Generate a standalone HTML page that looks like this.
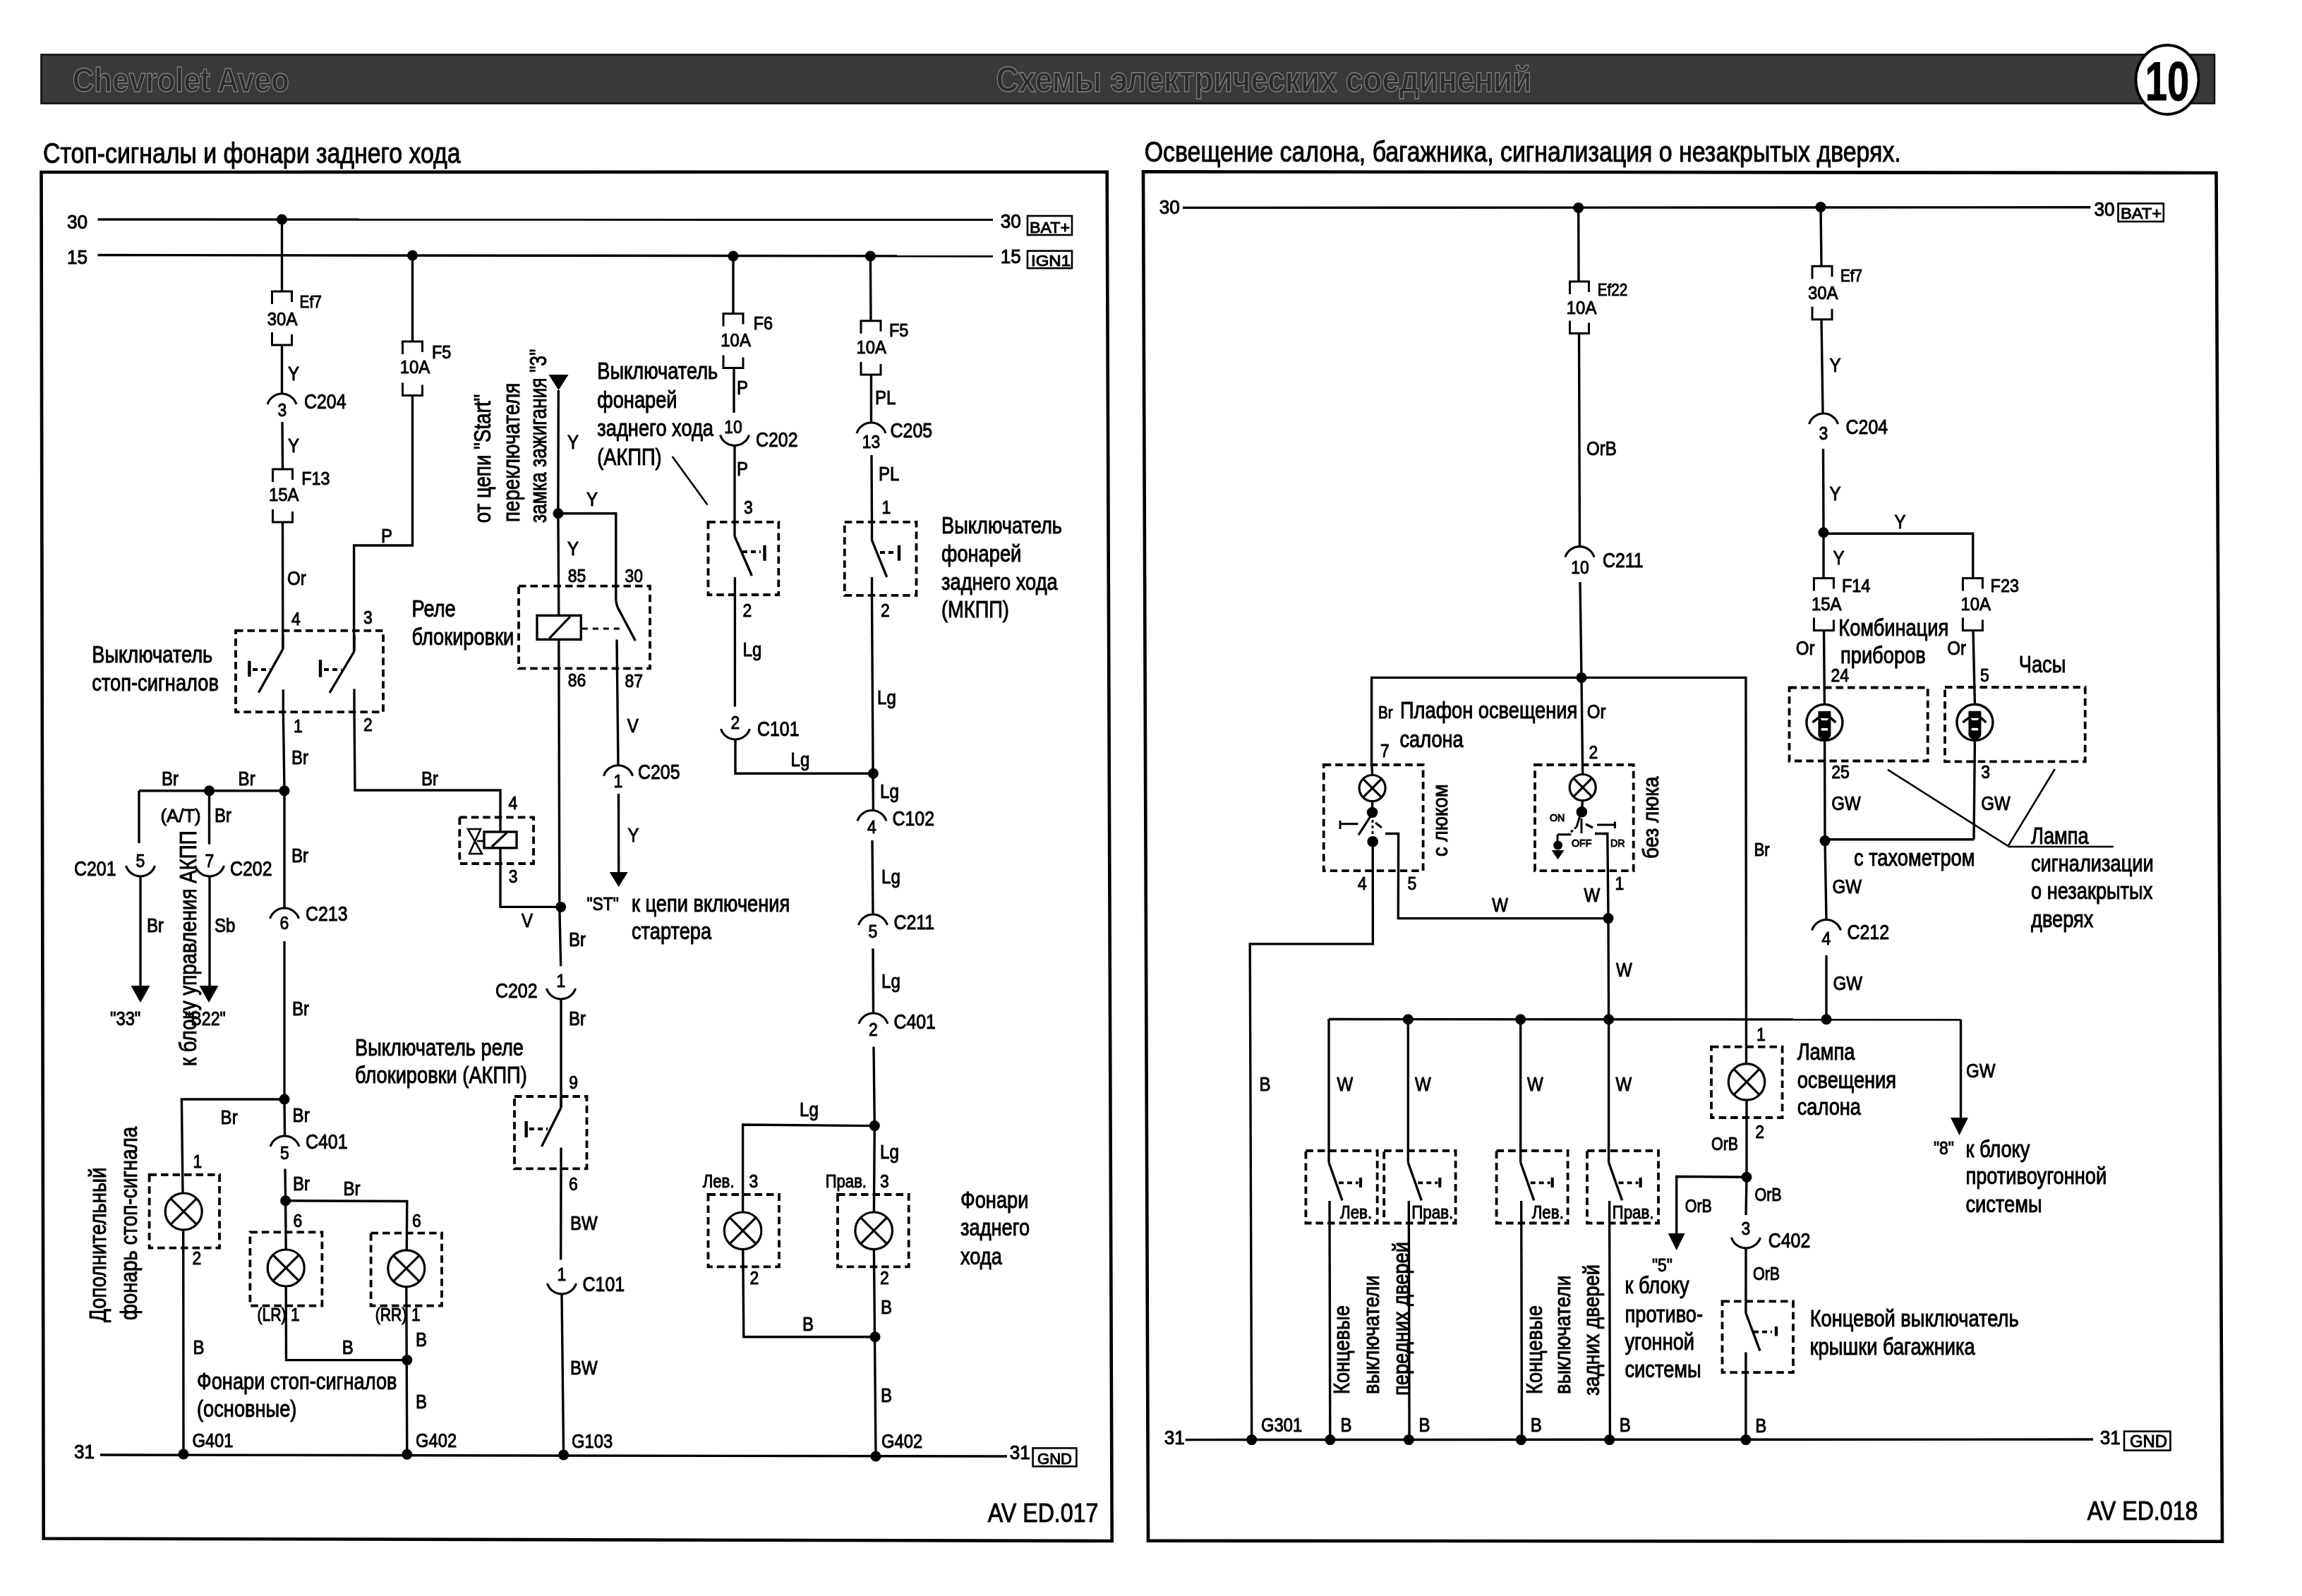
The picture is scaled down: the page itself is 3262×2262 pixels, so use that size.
<!DOCTYPE html>
<html><head><meta charset="utf-8"><style>
html,body{margin:0;padding:0;background:#fff;}
svg{display:block;will-change:transform;}
text{font-family:"Liberation Sans",sans-serif;fill:#000;stroke:#000;stroke-width:1.0px;}
</style></head><body>
<svg width="3262" height="2262" viewBox="0 0 3262 2262" stroke="#000" stroke-linecap="butt">
<rect width="3262" height="2262" fill="#fff" stroke="none"/>
<rect x="57.5" y="76.5" width="3081.5" height="71" fill="#3a3a3a" stroke="none"/><rect x="58.5" y="77.5" width="3079.5" height="69" fill="none" stroke="#111" stroke-width="2.5"/>
<text x="102.8" y="129.5" font-size="49" font-weight="bold" textLength="307" lengthAdjust="spacingAndGlyphs" style="fill:#2c2c2c;stroke:#808080;stroke-width:1.4">Chevrolet Aveo</text>
<text x="1411.4" y="129.5" font-size="50" font-weight="bold" textLength="759" lengthAdjust="spacingAndGlyphs" style="fill:#2c2c2c;stroke:#808080;stroke-width:1.4">Схемы электрических соединений</text>
<ellipse cx="3071" cy="113" rx="44.5" ry="49" fill="#fff" stroke="#000" stroke-width="3.8"/>
<text transform="translate(3071,141.5) scale(0.72,1)" font-size="78" font-weight="bold" text-anchor="middle">10</text>
<path d="M58.5,244 L1568.7,243.7 L1575.7,2184 L61.7,2180.5 Z" fill="none" stroke-width="4.6"/>
<path d="M1620,243.3 L3140.5,245 L3149,2184.7 L1627,2183.8 Z" fill="none" stroke-width="4.6"/>
<text transform="translate(61,230.7) scale(0.847,1)" font-size="40" >Стоп-сигналы и фонари заднего хода</text>
<text transform="translate(1621.7,229.3) scale(0.847,1)" font-size="40" >Освещение салона, багажника, сигнализация о незакрытых дверях.</text>
<line x1="138.6" y1="311" x2="1407" y2="311.3" stroke-width="3.4"/>
<line x1="138.6" y1="361.5" x2="1407" y2="363" stroke-width="3.4"/>
<text transform="translate(95,324) scale(0.97,1)" font-size="27" >30</text>
<text transform="translate(95,374) scale(0.97,1)" font-size="27" >15</text>
<text transform="translate(1417.7,323) scale(0.97,1)" font-size="27" >30</text>
<text transform="translate(1417.7,373) scale(0.97,1)" font-size="27" >15</text>
<rect x="1456" y="306" width="63" height="27" stroke-width="2.6" fill="none"/>
<text x="1459" y="329.5" font-size="22.5" textLength="57" lengthAdjust="spacingAndGlyphs">BAT+</text>
<rect x="1456" y="355.6" width="63" height="24.5" stroke-width="2.6" fill="none"/>
<text x="1461" y="376.5" font-size="22" textLength="56" lengthAdjust="spacingAndGlyphs">IGN1</text>
<circle cx="399.5" cy="311" r="7.5" fill="#000" stroke="none"/>
<circle cx="584.5" cy="362" r="7.5" fill="#000" stroke="none"/>
<circle cx="1039" cy="363" r="7.5" fill="#000" stroke="none"/>
<circle cx="1233.4" cy="363" r="7.5" fill="#000" stroke="none"/>
<line x1="399.5" y1="311" x2="399.5" y2="413" stroke-width="3.4"/>
<path d="M385.5,431 V413 H413.5 V428" stroke-width="3.0" fill="none" />
<path d="M385.5,471 V489 H413.5 V474" stroke-width="3.0" fill="none" />
<text transform="translate(378.8,461) scale(0.92,1)" font-size="26" >30A</text>
<text transform="translate(424.6,435.7) scale(0.9,1)" font-size="23" >Ef7</text>
<line x1="399.5" y1="489" x2="399.5" y2="558" stroke-width="3.4"/>
<text transform="translate(408,538.6) scale(0.86,1)" font-size="28" >Y</text>
<path d="M379,573 A21.5,21.5 0 0 1 420,573" stroke-width="3.1" fill="none" />
<text transform="translate(400,589.6) scale(0.9,1)" font-size="25.5" text-anchor="middle" >3</text>
<text transform="translate(431,578.5) scale(0.845,1)" font-size="29.5" >C204</text>
<line x1="400" y1="598" x2="400.5" y2="665" stroke-width="3.4"/>
<text transform="translate(408,641) scale(0.86,1)" font-size="28" >Y</text>
<path d="M386.5,683 V665 H414.5 V680" stroke-width="3.0" fill="none" />
<path d="M386.5,722 V740 H414.5 V725" stroke-width="3.0" fill="none" />
<text transform="translate(381,710) scale(0.92,1)" font-size="26" >15A</text>
<text transform="translate(427.3,686.5) scale(0.9,1)" font-size="26" >F13</text>
<line x1="400.5" y1="740" x2="400.8" y2="920" stroke-width="3.4"/>
<text transform="translate(407,828.8) scale(0.86,1)" font-size="28" >Or</text>
<text transform="translate(413,885.6) scale(0.9,1)" font-size="25.5" >4</text>
<line x1="584.5" y1="362" x2="584.5" y2="484" stroke-width="3.4"/>
<path d="M570.5,502 V484 H598.5 V499" stroke-width="3.0" fill="none" />
<path d="M570.5,542.5 V560.5 H598.5 V545.5" stroke-width="3.0" fill="none" />
<text transform="translate(566.7,529) scale(0.92,1)" font-size="26" >10A</text>
<text transform="translate(611.9,507.6) scale(0.9,1)" font-size="26" >F5</text>
<polyline points="584.5,560.5 584.5,773 501.6,773 501.6,923" stroke-width="3.4" fill="none"/>
<text transform="translate(540,768.6) scale(0.86,1)" font-size="28" >P</text>
<text transform="translate(515,884) scale(0.9,1)" font-size="25.5" >3</text>
<rect x="334" y="893.8" width="209" height="115.4" stroke-width="3.8" fill="none" stroke-dasharray="10.5 6"/>
<line x1="400.8" y1="900" x2="400.8" y2="920" stroke-width="3.4"/>
<line x1="400.8" y1="920" x2="366.4" y2="981.6" stroke-width="3.4"/>
<line x1="353.4" y1="936.7" x2="353.4" y2="959" stroke-width="4.4"/>
<line x1="358" y1="949" x2="383" y2="949" stroke-width="3.8" stroke-dasharray="7 5"/>
<line x1="401.3" y1="977.4" x2="401.3" y2="1009" stroke-width="3.4"/>
<line x1="502" y1="900" x2="502" y2="923" stroke-width="3.4"/>
<line x1="502" y1="923" x2="467" y2="982" stroke-width="3.4"/>
<line x1="454" y1="935" x2="454" y2="959.7" stroke-width="4.4"/>
<line x1="459" y1="949" x2="484" y2="949" stroke-width="3.8" stroke-dasharray="7 5"/>
<line x1="502" y1="976.4" x2="502" y2="1009" stroke-width="3.4"/>
<text transform="translate(416,1037.8) scale(0.9,1)" font-size="25.5" >1</text>
<text transform="translate(515,1036) scale(0.9,1)" font-size="25.5" >2</text>
<text transform="translate(130.3,939) scale(0.826,1)" font-size="33" >Выключатель</text>
<text transform="translate(130.3,979.3) scale(0.826,1)" font-size="33" >стоп-сигналов</text>
<polyline points="401.3,1009 403,1120.8 403,1287" stroke-width="3.4" fill="none"/>
<text transform="translate(413,1083) scale(0.86,1)" font-size="28" >Br</text>
<polyline points="502,1009 503,1120 709,1120 709,1179" stroke-width="3.4" fill="none"/>
<text transform="translate(597,1113) scale(0.86,1)" font-size="28" >Br</text>
<text transform="translate(720.6,1146.5) scale(0.9,1)" font-size="25.5" >4</text>
<line x1="197" y1="1120.8" x2="403" y2="1120.8" stroke-width="3.4"/>
<circle cx="403" cy="1120.8" r="7.5" fill="#000" stroke="none"/>
<circle cx="296.5" cy="1120.8" r="7.5" fill="#000" stroke="none"/>
<text transform="translate(229,1113) scale(0.86,1)" font-size="28" >Br</text>
<text transform="translate(337.6,1113) scale(0.86,1)" font-size="28" >Br</text>
<line x1="197" y1="1120.8" x2="197" y2="1195" stroke-width="3.4"/>
<line x1="296.5" y1="1120.8" x2="296.5" y2="1196.7" stroke-width="3.4"/>
<text transform="translate(227.5,1164.5) scale(0.99,1)" font-size="26" >(A/T)</text>
<text transform="translate(304,1165) scale(0.86,1)" font-size="28" >Br</text>
<path d="M178.5,1227 A21.5,21.5 0 0 0 219.5,1227" stroke-width="3.1" fill="none" />
<text transform="translate(199,1228.5) scale(0.9,1)" font-size="25.5" text-anchor="middle" >5</text>
<text transform="translate(105,1241) scale(0.845,1)" font-size="29.5" >C201</text>
<path d="M276.5,1227 A21.5,21.5 0 0 0 317.5,1227" stroke-width="3.1" fill="none" />
<text transform="translate(297,1228.5) scale(0.9,1)" font-size="25.5" text-anchor="middle" >7</text>
<text transform="translate(326,1241) scale(0.845,1)" font-size="29.5" >C202</text>
<line x1="199" y1="1242" x2="199" y2="1397" stroke-width="3.4"/>
<path d="M185.5,1397 L212.5,1397 L199,1421 Z" fill="#000" stroke="none"/>
<text transform="translate(208,1320.5) scale(0.86,1)" font-size="28" >Br</text>
<line x1="297" y1="1242" x2="297" y2="1397" stroke-width="3.4"/>
<path d="M282.5,1397 L309.5,1397 L296,1421 Z" fill="#000" stroke="none"/>
<text transform="translate(304,1320.5) scale(0.86,1)" font-size="28" >Sb</text>
<text transform="translate(156,1452.6) scale(0.88,1)" font-size="27" >"33"</text>
<text transform="translate(262,1452.6) scale(0.86,1)" font-size="27" >"B22"</text>
<text transform="translate(277.5,1511) rotate(-90) scale(0.84,1)" font-size="33" >к блоку управления АКПП</text>
<text transform="translate(413,1221.8) scale(0.86,1)" font-size="28" >Br</text>
<path d="M382.5,1302 A21.5,21.5 0 0 1 423.5,1302" stroke-width="3.1" fill="none" />
<text transform="translate(403,1317) scale(0.9,1)" font-size="25.5" text-anchor="middle" >6</text>
<text transform="translate(433,1305.4) scale(0.845,1)" font-size="29.5" >C213</text>
<line x1="403" y1="1334" x2="403" y2="1558" stroke-width="3.4"/>
<text transform="translate(414,1439) scale(0.86,1)" font-size="28" >Br</text>
<circle cx="403" cy="1558" r="7.5" fill="#000" stroke="none"/>
<polyline points="403,1558 257.4,1558 259,1691" stroke-width="3.4" fill="none"/>
<text transform="translate(312.6,1593) scale(0.86,1)" font-size="28" >Br</text>
<text transform="translate(414.6,1589.7) scale(0.86,1)" font-size="28" >Br</text>
<line x1="403" y1="1558" x2="403.5" y2="1610" stroke-width="3.4"/>
<path d="M383,1625 A21.5,21.5 0 0 1 424,1625" stroke-width="3.1" fill="none" />
<text transform="translate(403.5,1643) scale(0.9,1)" font-size="25.5" text-anchor="middle" >5</text>
<text transform="translate(433,1628) scale(0.845,1)" font-size="29.5" >C401</text>
<line x1="404" y1="1656.6" x2="404.6" y2="1701.8" stroke-width="3.4"/>
<circle cx="404.6" cy="1701.8" r="7.5" fill="#000" stroke="none"/>
<text transform="translate(415,1686.7) scale(0.86,1)" font-size="28" >Br</text>
<text transform="translate(486.5,1693.5) scale(0.86,1)" font-size="28" >Br</text>
<polyline points="404.6,1701.8 576.8,1702.5 576.3,1772" stroke-width="3.4" fill="none"/>
<line x1="404.6" y1="1701.8" x2="405.2" y2="1771" stroke-width="3.4"/>
<text transform="translate(415.6,1738.6) scale(0.9,1)" font-size="25.5" >6</text>
<text transform="translate(584,1738.6) scale(0.9,1)" font-size="25.5" >6</text>
<text transform="translate(273.4,1655) scale(0.9,1)" font-size="25.5" >1</text>
<rect x="211.6" y="1665" width="99.4" height="103.7" stroke-width="3.8" fill="none" stroke-dasharray="10.5 6"/>
<circle cx="260.2" cy="1717" r="26" stroke-width="3.2" fill="none"/>
<line x1="241.8" y1="1698.6" x2="278.6" y2="1735.4" stroke-width="3.2"/>
<line x1="241.8" y1="1735.4" x2="278.6" y2="1698.6" stroke-width="3.2"/>
<text transform="translate(272.4,1792) scale(0.9,1)" font-size="25.5" >2</text>
<line x1="259.7" y1="1743" x2="260" y2="2060.5" stroke-width="3.4"/>
<text transform="translate(273.4,1919) scale(0.86,1)" font-size="28" >B</text>
<rect x="354.4" y="1746.3" width="102" height="104.4" stroke-width="3.8" fill="none" stroke-dasharray="10.5 6"/>
<circle cx="405.2" cy="1797" r="26" stroke-width="3.2" fill="none"/>
<line x1="386.8" y1="1778.6" x2="423.6" y2="1815.4" stroke-width="3.2"/>
<line x1="386.8" y1="1815.4" x2="423.6" y2="1778.6" stroke-width="3.2"/>
<rect x="525.6" y="1747.6" width="100.4" height="103.1" stroke-width="3.8" fill="none" stroke-dasharray="10.5 6"/>
<circle cx="575.8" cy="1797.8" r="26" stroke-width="3.2" fill="none"/>
<line x1="557.4" y1="1779.4" x2="594.2" y2="1816.2" stroke-width="3.2"/>
<line x1="557.4" y1="1816.2" x2="594.2" y2="1779.4" stroke-width="3.2"/>
<text transform="translate(364.4,1872.4) scale(0.85,1)" font-size="25" >(LR)</text>
<text transform="translate(412,1872.4) scale(0.9,1)" font-size="25.5" >1</text>
<text transform="translate(531.7,1872.4) scale(0.85,1)" font-size="25" >(RR)</text>
<text transform="translate(583,1872.4) scale(0.9,1)" font-size="25.5" >1</text>
<polyline points="405.2,1823 405.5,1927.6 576.8,1927.6" stroke-width="3.4" fill="none"/>
<line x1="575.8" y1="1823.8" x2="576.8" y2="2060.5" stroke-width="3.4"/>
<circle cx="576.8" cy="1927.6" r="7.5" fill="#000" stroke="none"/>
<text transform="translate(484.8,1919) scale(0.86,1)" font-size="28" >B</text>
<text transform="translate(589,1907.5) scale(0.86,1)" font-size="28" >B</text>
<text transform="translate(589,1996) scale(0.86,1)" font-size="28" >B</text>
<text transform="translate(279,1969.4) scale(0.826,1)" font-size="33" >Фонари стоп-сигналов</text>
<text transform="translate(279,2008) scale(0.826,1)" font-size="33" >(основные)</text>
<text transform="translate(150,1874) rotate(-90) scale(0.84,1)" font-size="33" >Дополнительный</text>
<text transform="translate(194,1871) rotate(-90) scale(0.84,1)" font-size="33" >фонарь стоп-сигнала</text>
<line x1="142" y1="2062" x2="1427" y2="2064" stroke-width="3.4"/>
<text transform="translate(105,2067.4) scale(0.97,1)" font-size="27" >31</text>
<text transform="translate(272.4,2050.7) scale(0.88,1)" font-size="27" >G401</text>
<text transform="translate(589,2050.7) scale(0.88,1)" font-size="27" >G402</text>
<circle cx="260" cy="2061" r="7.5" fill="#000" stroke="none"/>
<circle cx="576.8" cy="2061.3" r="7.5" fill="#000" stroke="none"/>
<text transform="translate(695,741.3) rotate(-90) scale(0.84,1)" font-size="33" >от цепи "Start"</text>
<text transform="translate(735.5,740) rotate(-90) scale(0.84,1)" font-size="33" >переключателя</text>
<text transform="translate(774,741) rotate(-90) scale(0.8,1)" font-size="33" >замка зажигания "3"</text>
<path d="M777.5,531 L805.5,531 L791.5,553 Z" fill="#000" stroke="none"/>
<polyline points="791.3,553 790.9,727.8 791.8,872.3" stroke-width="3.4" fill="none"/>
<text transform="translate(804,636) scale(0.86,1)" font-size="28" >Y</text>
<circle cx="790.9" cy="727.8" r="7.5" fill="#000" stroke="none"/>
<polyline points="790.9,727.8 872.8,727.8 872.8,850.8" stroke-width="3.4" fill="none"/>
<text transform="translate(831,717) scale(0.86,1)" font-size="28" >Y</text>
<text transform="translate(804,787) scale(0.86,1)" font-size="28" >Y</text>
<text transform="translate(804.8,825.2) scale(0.9,1)" font-size="25.5" >85</text>
<text transform="translate(885.5,825.2) scale(0.9,1)" font-size="25.5" >30</text>
<rect x="735" y="830.7" width="186" height="116.7" stroke-width="3.8" fill="none" stroke-dasharray="10.5 6"/>
<rect x="761" y="872.3" width="62.3" height="34" stroke-width="3.4" fill="none"/>
<line x1="778.3" y1="904.8" x2="808" y2="873.8" stroke-width="3.2"/>
<line x1="824.8" y1="891" x2="882.5" y2="891" stroke-width="3" stroke-dasharray="8 7"/>
<path d="M872.8,850.8 Q874,860 878,866 L900.3,908" stroke-width="3.4" fill="none" />
<line x1="874" y1="906.5" x2="876" y2="1084.7" stroke-width="3.4"/>
<text transform="translate(804.8,972.6) scale(0.9,1)" font-size="25.5" >86</text>
<text transform="translate(885.5,973.8) scale(0.9,1)" font-size="25.5" >87</text>
<text transform="translate(583.5,874) scale(0.826,1)" font-size="33" >Реле</text>
<text transform="translate(583.5,914) scale(0.826,1)" font-size="33" >блокировки</text>
<text transform="translate(888.7,1038.3) scale(0.86,1)" font-size="28" >V</text>
<path d="M855.5,1099.7 A21.5,21.5 0 0 1 896.5,1099.7" stroke-width="3.1" fill="none" />
<text transform="translate(876,1115.6) scale(0.9,1)" font-size="25.5" text-anchor="middle" >1</text>
<text transform="translate(904,1104) scale(0.845,1)" font-size="29.5" >C205</text>
<line x1="876.5" y1="1125" x2="876.7" y2="1236" stroke-width="3.4"/>
<path d="M863.7,1236 L889.7,1236 L876.7,1257 Z" fill="#000" stroke="none"/>
<text transform="translate(889.4,1193) scale(0.86,1)" font-size="28" >Y</text>
<text transform="translate(831.5,1290) scale(0.88,1)" font-size="26" >"ST"</text>
<text transform="translate(895,1292) scale(0.826,1)" font-size="33" >к цепи включения</text>
<text transform="translate(895,1330.8) scale(0.826,1)" font-size="33" >стартера</text>
<polyline points="791.8,906.3 792.8,1284.4 794.7,1369.4" stroke-width="3.4" fill="none"/>
<circle cx="794.7" cy="1285.4" r="7.5" fill="#000" stroke="none"/>
<rect x="651.3" y="1158.3" width="104.7" height="65.7" stroke-width="3.8" fill="none" stroke-dasharray="10.5 6"/>
<rect x="686" y="1179" width="46" height="22.8" stroke-width="3.4" fill="none"/>
<line x1="697" y1="1200" x2="718.3" y2="1180" stroke-width="3.2"/>
<path d="M663,1175 H681 L665,1210 H683 Z" stroke-width="2.6" fill="none" />
<line x1="676" y1="1192" x2="686" y2="1192" stroke-width="2.6"/>
<polyline points="709,1201.8 709,1285.4 794.7,1285.4" stroke-width="3.4" fill="none"/>
<text transform="translate(720.8,1251) scale(0.9,1)" font-size="25.5" >3</text>
<text transform="translate(739,1313.8) scale(0.86,1)" font-size="28" >V</text>
<text transform="translate(806,1340.6) scale(0.86,1)" font-size="28" >Br</text>
<path d="M774.5,1401 A21.5,21.5 0 0 0 815.5,1401" stroke-width="3.1" fill="none" />
<text transform="translate(795,1399) scale(0.9,1)" font-size="25.5" text-anchor="middle" >1</text>
<text transform="translate(702,1414) scale(0.845,1)" font-size="29.5" >C202</text>
<line x1="795" y1="1416" x2="795" y2="1569.7" stroke-width="3.4"/>
<text transform="translate(806,1452.6) scale(0.86,1)" font-size="28" >Br</text>
<text transform="translate(503,1496) scale(0.826,1)" font-size="33" >Выключатель реле</text>
<text transform="translate(503,1534.6) scale(0.826,1)" font-size="33" >блокировки (АКПП)</text>
<text transform="translate(806.3,1543.4) scale(0.9,1)" font-size="25.5" >9</text>
<rect x="729" y="1554" width="102.5" height="102.3" stroke-width="3.8" fill="none" stroke-dasharray="10.5 6"/>
<line x1="795" y1="1554" x2="795" y2="1569.7" stroke-width="3.4"/>
<line x1="795" y1="1569.7" x2="767.5" y2="1625" stroke-width="3.4"/>
<line x1="745.7" y1="1589" x2="745.7" y2="1612" stroke-width="4.4"/>
<line x1="750" y1="1600" x2="776" y2="1600" stroke-width="3.8" stroke-dasharray="7 5"/>
<line x1="795" y1="1626.5" x2="795" y2="1656" stroke-width="3.4"/>
<text transform="translate(806,1686.6) scale(0.9,1)" font-size="25.5" >6</text>
<line x1="795" y1="1656" x2="794.7" y2="1785.6" stroke-width="3.4"/>
<text transform="translate(808,1743) scale(0.86,1)" font-size="28" >BW</text>
<path d="M775.5,1819 A21.5,21.5 0 0 0 816.5,1819" stroke-width="3.1" fill="none" />
<text transform="translate(796,1814.6) scale(0.9,1)" font-size="25.5" text-anchor="middle" >1</text>
<text transform="translate(825.6,1830) scale(0.845,1)" font-size="29.5" >C101</text>
<line x1="796" y1="1834" x2="798.6" y2="2062" stroke-width="3.4"/>
<text transform="translate(808,1948) scale(0.86,1)" font-size="28" >BW</text>
<circle cx="798.6" cy="2062" r="7.5" fill="#000" stroke="none"/>
<text transform="translate(810,2052.4) scale(0.88,1)" font-size="27" >G103</text>
<line x1="1039" y1="363" x2="1039" y2="444.5" stroke-width="3.4"/>
<path d="M1025,462.5 V444.5 H1053 V459.5" stroke-width="3.0" fill="none" />
<path d="M1025,503.5 V521.5 H1053 V506.5" stroke-width="3.0" fill="none" />
<text transform="translate(1021.3,490.8) scale(0.92,1)" font-size="26" >10A</text>
<text transform="translate(1067.7,466.8) scale(0.9,1)" font-size="26" >F6</text>
<line x1="1040" y1="521.7" x2="1040" y2="585" stroke-width="3.4"/>
<text transform="translate(1044,559.4) scale(0.86,1)" font-size="28" >P</text>
<text transform="translate(846.3,537) scale(0.826,1)" font-size="33" >Выключатель</text>
<text transform="translate(846.3,578.3) scale(0.826,1)" font-size="33" >фонарей</text>
<text transform="translate(846.3,617.8) scale(0.826,1)" font-size="33" >заднего хода</text>
<text transform="translate(846.3,659) scale(0.826,1)" font-size="33" >(АКПП)</text>
<line x1="952.7" y1="647" x2="1002.5" y2="715.6" stroke-width="2.6"/>
<path d="M1020.5,616.5 A21.5,21.5 0 0 0 1061.5,616.5" stroke-width="3.1" fill="none" />
<text transform="translate(1039,614.3) scale(0.9,1)" font-size="25.5" text-anchor="middle" >10</text>
<text transform="translate(1071,633) scale(0.845,1)" font-size="29.5" >C202</text>
<line x1="1041" y1="631.5" x2="1041" y2="739.8" stroke-width="3.4"/>
<text transform="translate(1044,674) scale(0.86,1)" font-size="28" >P</text>
<text transform="translate(1054,727.6) scale(0.9,1)" font-size="25.5" >3</text>
<rect x="1003.5" y="739.8" width="99.8" height="103.2" stroke-width="3.8" fill="none" stroke-dasharray="10.5 6"/>
<line x1="1041" y1="739.8" x2="1041" y2="760" stroke-width="3.4"/>
<line x1="1041" y1="760" x2="1065.4" y2="816" stroke-width="3.4"/>
<line x1="1083.5" y1="772.7" x2="1083.5" y2="794.7" stroke-width="4.4"/>
<line x1="1052" y1="782" x2="1078" y2="782" stroke-width="3.8" stroke-dasharray="7 5"/>
<line x1="1041.4" y1="818" x2="1041.4" y2="843" stroke-width="3.4"/>
<text transform="translate(1052.6,874) scale(0.9,1)" font-size="25.5" >2</text>
<line x1="1041.4" y1="843" x2="1041.4" y2="1001.6" stroke-width="3.4"/>
<text transform="translate(1052.6,930) scale(0.86,1)" font-size="28" >Lg</text>
<path d="M1021.5,1033 A21.5,21.5 0 0 0 1062.5,1033" stroke-width="3.1" fill="none" />
<text transform="translate(1042,1032.5) scale(0.9,1)" font-size="25.5" text-anchor="middle" >2</text>
<text transform="translate(1073,1043.3) scale(0.845,1)" font-size="29.5" >C101</text>
<polyline points="1042,1048 1042,1096.3 1237.4,1096.3" stroke-width="3.4" fill="none"/>
<text transform="translate(1120.6,1085.8) scale(0.86,1)" font-size="28" >Lg</text>
<line x1="1233.4" y1="363" x2="1234" y2="454.8" stroke-width="3.4"/>
<path d="M1220,472.8 V454.8 H1248 V469.8" stroke-width="3.0" fill="none" />
<path d="M1220,513 V531 H1248 V516" stroke-width="3.0" fill="none" />
<text transform="translate(1213.5,501) scale(0.92,1)" font-size="26" >10A</text>
<text transform="translate(1260,477) scale(0.9,1)" font-size="26" >F5</text>
<line x1="1234.5" y1="531" x2="1234.5" y2="599" stroke-width="3.4"/>
<text transform="translate(1240,573) scale(0.86,1)" font-size="28" >PL</text>
<path d="M1214,614 A21.5,21.5 0 0 1 1255,614" stroke-width="3.1" fill="none" />
<text transform="translate(1234.5,635) scale(0.9,1)" font-size="25.5" text-anchor="middle" >13</text>
<text transform="translate(1261.6,619.5) scale(0.845,1)" font-size="29.5" >C205</text>
<line x1="1235" y1="645" x2="1235.5" y2="739.8" stroke-width="3.4"/>
<text transform="translate(1245,681) scale(0.86,1)" font-size="28" >PL</text>
<text transform="translate(1249.5,727.6) scale(0.9,1)" font-size="25.5" >1</text>
<rect x="1196.8" y="739.8" width="101.7" height="104" stroke-width="3.8" fill="none" stroke-dasharray="10.5 6"/>
<line x1="1235.5" y1="739.8" x2="1235.5" y2="765.7" stroke-width="3.4"/>
<line x1="1235.5" y1="765.7" x2="1256.7" y2="817.9" stroke-width="3.4"/>
<line x1="1274" y1="772.7" x2="1274" y2="794.7" stroke-width="4.4"/>
<line x1="1247" y1="783" x2="1269" y2="783" stroke-width="3.8" stroke-dasharray="7 5"/>
<line x1="1235.5" y1="818" x2="1235.5" y2="843.8" stroke-width="3.4"/>
<text transform="translate(1248,874) scale(0.9,1)" font-size="25.5" >2</text>
<text transform="translate(1334,755.5) scale(0.826,1)" font-size="33" >Выключатель</text>
<text transform="translate(1334,796) scale(0.826,1)" font-size="33" >фонарей</text>
<text transform="translate(1334,835.5) scale(0.826,1)" font-size="33" >заднего хода</text>
<text transform="translate(1334,874.5) scale(0.826,1)" font-size="33" >(МКПП)</text>
<line x1="1235.5" y1="843.8" x2="1237.4" y2="1148.5" stroke-width="3.4"/>
<text transform="translate(1243,997.7) scale(0.86,1)" font-size="28" >Lg</text>
<circle cx="1237.4" cy="1096.3" r="7.5" fill="#000" stroke="none"/>
<text transform="translate(1247,1131) scale(0.86,1)" font-size="28" >Lg</text>
<path d="M1215,1163.5 A21.5,21.5 0 0 1 1256,1163.5" stroke-width="3.1" fill="none" />
<text transform="translate(1235.5,1181.3) scale(0.9,1)" font-size="25.5" text-anchor="middle" >4</text>
<text transform="translate(1264.5,1169.7) scale(0.845,1)" font-size="29.5" >C102</text>
<line x1="1236" y1="1191" x2="1237" y2="1296" stroke-width="3.4"/>
<text transform="translate(1249,1251.5) scale(0.86,1)" font-size="28" >Lg</text>
<path d="M1216.5,1311 A21.5,21.5 0 0 1 1257.5,1311" stroke-width="3.1" fill="none" />
<text transform="translate(1237,1329) scale(0.9,1)" font-size="25.5" text-anchor="middle" >5</text>
<text transform="translate(1266.4,1317) scale(0.845,1)" font-size="29.5" >C211</text>
<line x1="1237" y1="1344.3" x2="1237.5" y2="1436" stroke-width="3.4"/>
<text transform="translate(1249,1400.4) scale(0.86,1)" font-size="28" >Lg</text>
<path d="M1217,1451 A21.5,21.5 0 0 1 1258,1451" stroke-width="3.1" fill="none" />
<text transform="translate(1237.5,1468) scale(0.9,1)" font-size="25.5" text-anchor="middle" >2</text>
<text transform="translate(1266.4,1457.6) scale(0.845,1)" font-size="29.5" >C401</text>
<line x1="1238" y1="1483.5" x2="1239.3" y2="1595.6" stroke-width="3.4"/>
<circle cx="1239.3" cy="1595.6" r="7.5" fill="#000" stroke="none"/>
<polyline points="1239.3,1595.6 1052.6,1594 1052.6,1718" stroke-width="3.4" fill="none"/>
<text transform="translate(1133,1582) scale(0.86,1)" font-size="28" >Lg</text>
<text transform="translate(1247,1642) scale(0.86,1)" font-size="28" >Lg</text>
<line x1="1239.3" y1="1595.6" x2="1238.4" y2="1718" stroke-width="3.4"/>
<text transform="translate(995.8,1682.6) scale(0.85,1)" font-size="26" >Лев.</text>
<text transform="translate(1061.5,1682.6) scale(0.9,1)" font-size="25.5" >3</text>
<text transform="translate(1169.7,1682.6) scale(0.85,1)" font-size="26" >Прав.</text>
<text transform="translate(1247,1682.6) scale(0.9,1)" font-size="25.5" >3</text>
<rect x="1003.5" y="1693" width="100.5" height="102.3" stroke-width="3.8" fill="none" stroke-dasharray="10.5 6"/>
<circle cx="1052.6" cy="1744.3" r="26.3" stroke-width="3.2" fill="none"/>
<line x1="1034" y1="1725.7" x2="1071.2" y2="1762.9" stroke-width="3.2"/>
<line x1="1034" y1="1762.9" x2="1071.2" y2="1725.7" stroke-width="3.2"/>
<rect x="1187" y="1693" width="100.7" height="102.3" stroke-width="3.8" fill="none" stroke-dasharray="10.5 6"/>
<circle cx="1238.2" cy="1744.3" r="26.3" stroke-width="3.2" fill="none"/>
<line x1="1219.6" y1="1725.7" x2="1256.8" y2="1762.9" stroke-width="3.2"/>
<line x1="1219.6" y1="1762.9" x2="1256.8" y2="1725.7" stroke-width="3.2"/>
<text transform="translate(1361,1712) scale(0.826,1)" font-size="33" >Фонари</text>
<text transform="translate(1361,1751) scale(0.826,1)" font-size="33" >заднего</text>
<text transform="translate(1361,1791.5) scale(0.826,1)" font-size="33" >хода</text>
<text transform="translate(1062.6,1820.4) scale(0.9,1)" font-size="25.5" >2</text>
<text transform="translate(1247,1820.4) scale(0.9,1)" font-size="25.5" >2</text>
<polyline points="1052.8,1770.6 1053.8,1894.7 1240,1894.7" stroke-width="3.4" fill="none"/>
<line x1="1238.4" y1="1770.6" x2="1241" y2="2064" stroke-width="3.4"/>
<circle cx="1240" cy="1894.7" r="7.5" fill="#000" stroke="none"/>
<circle cx="1241" cy="2064" r="7.5" fill="#000" stroke="none"/>
<text transform="translate(1248,1861.8) scale(0.86,1)" font-size="28" >B</text>
<text transform="translate(1137,1886) scale(0.86,1)" font-size="28" >B</text>
<text transform="translate(1248,1986.7) scale(0.86,1)" font-size="28" >B</text>
<text transform="translate(1249,2052.4) scale(0.88,1)" font-size="27" >G402</text>
<text transform="translate(1430.7,2068) scale(0.97,1)" font-size="27" >31</text>
<rect x="1463.6" y="2052.4" width="61.8" height="25.9" stroke-width="2.6" fill="none"/>
<text x="1470" y="2074.5" font-size="22" textLength="49" lengthAdjust="spacingAndGlyphs">GND</text>
<text transform="translate(1399.8,2156.8) scale(0.853,1)" font-size="37.7" >AV ED.017</text>
<line x1="1676" y1="294.4" x2="2962.4" y2="293.8" stroke-width="3.4"/>
<text transform="translate(1642.8,303) scale(0.97,1)" font-size="27" >30</text>
<text transform="translate(2967.4,306.4) scale(0.97,1)" font-size="27" >30</text>
<rect x="3001.5" y="288.4" width="64.3" height="25.6" stroke-width="2.6" fill="none"/>
<text x="3005" y="310" font-size="22.5" textLength="58" lengthAdjust="spacingAndGlyphs">BAT+</text>
<circle cx="2236.7" cy="294.4" r="7.5" fill="#000" stroke="none"/>
<circle cx="2580" cy="293.5" r="7.5" fill="#000" stroke="none"/>
<line x1="2236.7" y1="294.4" x2="2237" y2="398.9" stroke-width="3.4"/>
<path d="M2224.5,416.9 V398.9 H2251.5 V413.9" stroke-width="3.0" fill="none" />
<path d="M2224.5,454.5 V472.5 H2251.5 V457.5" stroke-width="3.0" fill="none" />
<text transform="translate(2219.8,444.6) scale(0.92,1)" font-size="26" >10A</text>
<text transform="translate(2263.8,419.3) scale(0.9,1)" font-size="23" >Ef22</text>
<line x1="2237.5" y1="472" x2="2238.5" y2="774.6" stroke-width="3.4"/>
<text transform="translate(2248,644.5) scale(0.86,1)" font-size="28" >OrB</text>
<path d="M2218,789.6 A21.5,21.5 0 0 1 2259,789.6" stroke-width="3.1" fill="none" />
<text transform="translate(2239,812.6) scale(0.9,1)" font-size="25.5" text-anchor="middle" >10</text>
<text transform="translate(2271,803.8) scale(0.845,1)" font-size="29.5" >C211</text>
<line x1="2239" y1="825" x2="2241" y2="960.4" stroke-width="3.4"/>
<circle cx="2241" cy="960.4" r="7.5" fill="#000" stroke="none"/>
<polyline points="1943.6,1084 1943.6,960.4 2473.9,960.4 2474.5,1507.7" stroke-width="3.4" fill="none"/>
<text transform="translate(1953,1018.4) scale(0.86,1)" font-size="24" >Br</text>
<text transform="translate(1984,1018.4) scale(0.826,1)" font-size="33" >Плафон освещения</text>
<text transform="translate(1983.4,1059) scale(0.826,1)" font-size="33" >салона</text>
<text transform="translate(2248.7,1018.4) scale(0.86,1)" font-size="28" >Or</text>
<text transform="translate(1956,1073) scale(0.9,1)" font-size="25.5" >7</text>
<text transform="translate(2251.5,1074.7) scale(0.9,1)" font-size="25.5" >2</text>
<line x1="2241" y1="960.4" x2="2242.7" y2="1097.5" stroke-width="3.4"/>
<rect x="1875.7" y="1084" width="140.9" height="150.2" stroke-width="3.8" fill="none" stroke-dasharray="10.5 6"/>
<line x1="1943.8" y1="1084" x2="1944.6" y2="1098.5" stroke-width="3.4"/>
<circle cx="1944.6" cy="1117" r="18.5" stroke-width="3.2" fill="none"/>
<line x1="1931.5" y1="1103.9" x2="1957.7" y2="1130.1" stroke-width="3.2"/>
<line x1="1931.5" y1="1130.1" x2="1957.7" y2="1103.9" stroke-width="3.2"/>
<line x1="1944.6" y1="1135.5" x2="1944.6" y2="1151.5" stroke-width="3.4"/>
<circle cx="1944.6" cy="1151.5" r="7.8" fill="#000" stroke="none"/>
<line x1="1944" y1="1154" x2="1925" y2="1183.4" stroke-width="3.2"/>
<line x1="1945" y1="1162" x2="1945" y2="1182" stroke-width="3" stroke-dasharray="4 4"/>
<line x1="1899" y1="1167.7" x2="1924.5" y2="1167.7" stroke-width="3"/>
<line x1="1899" y1="1163" x2="1899" y2="1175" stroke-width="3"/>
<line x1="1949" y1="1166" x2="1958" y2="1173" stroke-width="3"/>
<polyline points="1963,1181.5 1981.6,1181.5 1981.3,1301.6 2279,1301.6" stroke-width="3.4" fill="none"/>
<circle cx="1945.2" cy="1192.8" r="7.8" fill="#000" stroke="none"/>
<polyline points="1945.2,1192.8 1945.4,1337.9 1771.2,1337.9 1773.7,2040.6" stroke-width="3.4" fill="none"/>
<text transform="translate(2050.5,1214) rotate(-90) scale(0.9,1)" font-size="30" >с люком</text>
<text transform="translate(1924,1261) scale(0.9,1)" font-size="25.5" >4</text>
<text transform="translate(1994.6,1261) scale(0.9,1)" font-size="25.5" >5</text>
<text transform="translate(2114.3,1292) scale(0.86,1)" font-size="28" >W</text>
<text transform="translate(2244.5,1278) scale(0.86,1)" font-size="28" >W</text>
<rect x="2175" y="1084" width="139.7" height="150.2" stroke-width="3.8" fill="none" stroke-dasharray="10.5 6"/>
<circle cx="2242.7" cy="1116" r="18.5" stroke-width="3.2" fill="none"/>
<line x1="2229.6" y1="1102.9" x2="2255.8" y2="1129.1" stroke-width="3.2"/>
<line x1="2229.6" y1="1129.1" x2="2255.8" y2="1102.9" stroke-width="3.2"/>
<line x1="2242.5" y1="1134.5" x2="2241.4" y2="1150.8" stroke-width="3.4"/>
<circle cx="2241.4" cy="1150.8" r="7.8" fill="#000" stroke="none"/>
<text transform="translate(2196,1164) scale(0.95,1)" font-size="15" >ON</text>
<text transform="translate(2227,1199.7) scale(0.95,1)" font-size="15" >OFF</text>
<text transform="translate(2282,1199.7) scale(0.95,1)" font-size="15" >DR</text>
<line x1="2239" y1="1156" x2="2234" y2="1172" stroke-width="3"/>
<line x1="2241" y1="1160" x2="2241" y2="1181" stroke-width="3"/>
<line x1="2234" y1="1172" x2="2223" y2="1182" stroke-width="3" stroke-dasharray="4 3"/>
<line x1="2207" y1="1182.8" x2="2226.4" y2="1182.8" stroke-width="3"/>
<line x1="2207" y1="1182.8" x2="2207" y2="1196" stroke-width="3"/>
<circle cx="2207.6" cy="1198" r="6.5" fill="#000" stroke="none"/>
<path d="M2198.6,1205 L2216.6,1205 L2207.6,1218 Z" fill="#000" stroke="none"/>
<line x1="2247" y1="1168" x2="2257" y2="1173" stroke-width="3.2"/>
<line x1="2263" y1="1169" x2="2288" y2="1169" stroke-width="3"/>
<line x1="2288.4" y1="1164.6" x2="2288.4" y2="1174" stroke-width="3"/>
<polyline points="2260,1181.5 2277.8,1181.5 2279,1301.6 2279.6,1445" stroke-width="3.4" fill="none"/>
<text transform="translate(2350,1217) rotate(-90) scale(0.9,1)" font-size="31" >без люка</text>
<text transform="translate(2288.5,1261) scale(0.9,1)" font-size="25.5" >1</text>
<circle cx="2279" cy="1301.6" r="7.5" fill="#000" stroke="none"/>
<text transform="translate(2290,1383.6) scale(0.86,1)" font-size="28" >W</text>
<line x1="1883" y1="1444.5" x2="2778.5" y2="1445" stroke-width="3.4"/>
<polyline points="2778.5,1445 2778.5,1584" stroke-width="3.4" fill="none"/>
<path d="M2764,1584 L2789,1584 L2776.5,1609 Z" fill="#000" stroke="none"/>
<circle cx="1995.3" cy="1444.8" r="7.5" fill="#000" stroke="none"/>
<circle cx="2154.7" cy="1444.8" r="7.5" fill="#000" stroke="none"/>
<circle cx="2279.6" cy="1444.8" r="7.5" fill="#000" stroke="none"/>
<circle cx="2588" cy="1444.8" r="7.5" fill="#000" stroke="none"/>
<line x1="1883" y1="1444.5" x2="1883" y2="1447" stroke-width="3.4"/>
<line x1="1883" y1="1444.5" x2="1883" y2="1647.5" stroke-width="3.4"/>
<line x1="1883" y1="1647.5" x2="1902" y2="1701.4" stroke-width="3.4"/>
<line x1="1928" y1="1669" x2="1928" y2="1683" stroke-width="4.2"/>
<line x1="1897" y1="1676.4" x2="1925" y2="1676.4" stroke-width="3.6" stroke-dasharray="7 5"/>
<line x1="1884" y1="1702" x2="1884.8" y2="2040.6" stroke-width="3.4"/>
<text transform="translate(1899,1726.7) scale(0.86,1)" font-size="26" >Лев.</text>
<line x1="1995.3" y1="1444.5" x2="1995.3" y2="1647.5" stroke-width="3.4"/>
<line x1="1995.3" y1="1647.5" x2="2014.3" y2="1701.4" stroke-width="3.4"/>
<line x1="2040.3" y1="1669" x2="2040.3" y2="1683" stroke-width="4.2"/>
<line x1="2009.3" y1="1676.4" x2="2037.3" y2="1676.4" stroke-width="3.6" stroke-dasharray="7 5"/>
<line x1="1996.3" y1="1702" x2="1997.1" y2="2040.6" stroke-width="3.4"/>
<text transform="translate(2000.3,1726.7) scale(0.86,1)" font-size="26" >Прав.</text>
<line x1="2154.7" y1="1444.5" x2="2154.7" y2="1647.5" stroke-width="3.4"/>
<line x1="2154.7" y1="1647.5" x2="2173.7" y2="1701.4" stroke-width="3.4"/>
<line x1="2199.7" y1="1669" x2="2199.7" y2="1683" stroke-width="4.2"/>
<line x1="2168.7" y1="1676.4" x2="2196.7" y2="1676.4" stroke-width="3.6" stroke-dasharray="7 5"/>
<line x1="2155.7" y1="1702" x2="2156.5" y2="2040.6" stroke-width="3.4"/>
<text transform="translate(2170.7,1726.7) scale(0.86,1)" font-size="26" >Лев.</text>
<line x1="2279.6" y1="1444.5" x2="2279.6" y2="1647.5" stroke-width="3.4"/>
<line x1="2279.6" y1="1647.5" x2="2298.6" y2="1701.4" stroke-width="3.4"/>
<line x1="2324.6" y1="1669" x2="2324.6" y2="1683" stroke-width="4.2"/>
<line x1="2293.6" y1="1676.4" x2="2321.6" y2="1676.4" stroke-width="3.6" stroke-dasharray="7 5"/>
<line x1="2280.6" y1="1702" x2="2281.4" y2="2040.6" stroke-width="3.4"/>
<text transform="translate(2284.6,1726.7) scale(0.86,1)" font-size="26" >Прав.</text>
<rect x="1850.4" y="1631" width="101.3" height="102.5" stroke-width="3.8" fill="none" stroke-dasharray="10.5 6"/>
<rect x="1961.2" y="1631" width="101.4" height="102.5" stroke-width="3.8" fill="none" stroke-dasharray="10.5 6"/>
<rect x="2120.6" y="1631" width="101" height="102.5" stroke-width="3.8" fill="none" stroke-dasharray="10.5 6"/>
<rect x="2249" y="1631" width="101" height="102.5" stroke-width="3.8" fill="none" stroke-dasharray="10.5 6"/>
<text transform="translate(1784.6,1545.5) scale(0.86,1)" font-size="28" >B</text>
<text transform="translate(1894.4,1545.5) scale(0.86,1)" font-size="28" >W</text>
<text transform="translate(2005,1545.5) scale(0.86,1)" font-size="28" >W</text>
<text transform="translate(2164,1545.5) scale(0.86,1)" font-size="28" >W</text>
<text transform="translate(2289.5,1545.5) scale(0.86,1)" font-size="28" >W</text>
<text transform="translate(1912,1976) rotate(-90) scale(0.88,1)" font-size="31" >Концевые</text>
<text transform="translate(1954,1976) rotate(-90) scale(0.88,1)" font-size="31" >выключатели</text>
<text transform="translate(1996,1978) rotate(-90) scale(0.88,1)" font-size="31" >передних дверей</text>
<text transform="translate(2184.6,1976) rotate(-90) scale(0.88,1)" font-size="31" >Концевые</text>
<text transform="translate(2225,1976) rotate(-90) scale(0.88,1)" font-size="31" >выключатели</text>
<text transform="translate(2266,1978) rotate(-90) scale(0.88,1)" font-size="31" >задних дверей</text>
<line x1="2580" y1="293.5" x2="2581" y2="377.3" stroke-width="3.4"/>
<path d="M2568,395.3 V377.3 H2596 V392.3" stroke-width="3.0" fill="none" />
<path d="M2568,434.8 V452.8 H2596 V437.8" stroke-width="3.0" fill="none" />
<text transform="translate(2562,424) scale(0.92,1)" font-size="26" >30A</text>
<text transform="translate(2608,399) scale(0.9,1)" font-size="23" >Ef7</text>
<line x1="2581" y1="452.8" x2="2583" y2="586" stroke-width="3.4"/>
<text transform="translate(2592.6,526.7) scale(0.86,1)" font-size="28" >Y</text>
<path d="M2563.5,601 A21.5,21.5 0 0 1 2604.5,601" stroke-width="3.1" fill="none" />
<text transform="translate(2584,622.5) scale(0.9,1)" font-size="25.5" text-anchor="middle" >3</text>
<text transform="translate(2615.6,614.9) scale(0.845,1)" font-size="29.5" >C204</text>
<line x1="2583.5" y1="636" x2="2584" y2="754.8" stroke-width="3.4"/>
<text transform="translate(2592.6,708.7) scale(0.86,1)" font-size="28" >Y</text>
<circle cx="2584" cy="754.8" r="7.5" fill="#000" stroke="none"/>
<polyline points="2584,756.3 2795.7,756.3 2795.7,819.5" stroke-width="3.4" fill="none"/>
<text transform="translate(2684.6,749) scale(0.86,1)" font-size="28" >Y</text>
<text transform="translate(2597.6,800.4) scale(0.86,1)" font-size="28" >Y</text>
<line x1="2584" y1="754.8" x2="2584" y2="819.5" stroke-width="3.4"/>
<path d="M2570.4,837.5 V819.5 H2598.4 V834.5" stroke-width="3.0" fill="none" />
<path d="M2570.4,875.5 V893.5 H2598.4 V878.5" stroke-width="3.0" fill="none" />
<text transform="translate(2567,864.7) scale(0.92,1)" font-size="26" >15A</text>
<text transform="translate(2610,838.7) scale(0.9,1)" font-size="26" >F14</text>
<path d="M2781.4,837.5 V819.5 H2809.4 V834.5" stroke-width="3.0" fill="none" />
<path d="M2781.4,875.5 V893.5 H2809.4 V878.5" stroke-width="3.0" fill="none" />
<text transform="translate(2778.5,864.7) scale(0.92,1)" font-size="26" >10A</text>
<text transform="translate(2820.6,838.7) scale(0.9,1)" font-size="26" >F23</text>
<text transform="translate(2605.3,901) scale(0.826,1)" font-size="33" >Комбинация</text>
<text transform="translate(2608,939.5) scale(0.826,1)" font-size="33" >приборов</text>
<text transform="translate(2860.8,952.9) scale(0.826,1)" font-size="33" >Часы</text>
<text transform="translate(2544.8,928) scale(0.86,1)" font-size="28" >Or</text>
<text transform="translate(2759.3,928) scale(0.86,1)" font-size="28" >Or</text>
<text transform="translate(2594.6,966.3) scale(0.9,1)" font-size="25.5" >24</text>
<text transform="translate(2806,966.3) scale(0.9,1)" font-size="25.5" >5</text>
<line x1="2584.5" y1="893.5" x2="2585.4" y2="998.4" stroke-width="3.4"/>
<line x1="2796" y1="893.5" x2="2798.4" y2="998.3" stroke-width="3.4"/>
<rect x="2535.5" y="974.5" width="196.2" height="104" stroke-width="3.8" fill="none" stroke-dasharray="10.5 6"/>
<rect x="2756" y="974" width="198.7" height="105.3" stroke-width="3.8" fill="none" stroke-dasharray="10.5 6"/>
<circle cx="2585.4" cy="1023.9" r="25.5" stroke-width="3.4" fill="none"/>
<path d="M2576.4,1007.9 h18 v33 q0,6 -9,8 q-9,-2 -9,-8 z" fill="#000" stroke="none"/>
<path d="M2579.4,1017.9 h12 l-2,3 h-8 z" fill="#fff" stroke="none"/>
<rect x="2580.4" y="1031.9" width="10" height="3.5" rx="1.5" fill="#fff" stroke="none"/>
<line x1="2577.4" y1="1016.9" x2="2568.4" y2="1023.9" stroke-width="3.6"/>
<line x1="2593.4" y1="1016.9" x2="2601.4" y2="1023.9" stroke-width="3.6"/>
<circle cx="2798.4" cy="1023.8" r="25.5" stroke-width="3.4" fill="none"/>
<path d="M2789.4,1007.8 h18 v33 q0,6 -9,8 q-9,-2 -9,-8 z" fill="#000" stroke="none"/>
<path d="M2792.4,1017.8 h12 l-2,3 h-8 z" fill="#fff" stroke="none"/>
<rect x="2793.4" y="1031.8" width="10" height="3.5" rx="1.5" fill="#fff" stroke="none"/>
<line x1="2790.4" y1="1016.8" x2="2781.4" y2="1023.8" stroke-width="3.6"/>
<line x1="2806.4" y1="1016.8" x2="2814.4" y2="1023.8" stroke-width="3.6"/>
<text transform="translate(2595.3,1103) scale(0.9,1)" font-size="25.5" >25</text>
<text transform="translate(2807.2,1103) scale(0.9,1)" font-size="25.5" >3</text>
<line x1="2585.6" y1="1049.4" x2="2586" y2="1191.6" stroke-width="3.4"/>
<line x1="2798.4" y1="1049.3" x2="2797" y2="1189.7" stroke-width="3.4"/>
<text transform="translate(2595.3,1148.3) scale(0.86,1)" font-size="28" >GW</text>
<text transform="translate(2807.2,1148.3) scale(0.86,1)" font-size="28" >GW</text>
<line x1="2586" y1="1189.7" x2="2797" y2="1189.7" stroke-width="3.4"/>
<circle cx="2586" cy="1191.6" r="7.5" fill="#000" stroke="none"/>
<line x1="2675" y1="1090.8" x2="2845.5" y2="1199.2" stroke-width="2.6"/>
<line x1="2911.8" y1="1090" x2="2845.5" y2="1199.2" stroke-width="2.6"/>
<line x1="2845.5" y1="1200" x2="2995" y2="1200" stroke-width="2.6"/>
<text transform="translate(2878,1196.2) scale(0.826,1)" font-size="33" >Лампа</text>
<text transform="translate(2878,1234.5) scale(0.826,1)" font-size="33" >сигнализации</text>
<text transform="translate(2878,1273.6) scale(0.826,1)" font-size="33" >о незакрытых</text>
<text transform="translate(2878,1313.9) scale(0.826,1)" font-size="33" >дверях</text>
<text transform="translate(2627,1226.8) scale(0.826,1)" font-size="33" >с тахометром</text>
<text transform="translate(2485.4,1213.4) scale(0.86,1)" font-size="26" >Br</text>
<line x1="2586" y1="1191.6" x2="2588" y2="1303.5" stroke-width="3.4"/>
<text transform="translate(2596.5,1266) scale(0.86,1)" font-size="28" >GW</text>
<path d="M2567.5,1318.5 A21.5,21.5 0 0 1 2608.5,1318.5" stroke-width="3.1" fill="none" />
<text transform="translate(2588,1338.8) scale(0.9,1)" font-size="25.5" text-anchor="middle" >4</text>
<text transform="translate(2617.5,1331) scale(0.845,1)" font-size="29.5" >C212</text>
<line x1="2588" y1="1354" x2="2588" y2="1444.5" stroke-width="3.4"/>
<text transform="translate(2597.6,1403) scale(0.86,1)" font-size="28" >GW</text>
<text transform="translate(2786,1526.5) scale(0.86,1)" font-size="28" >GW</text>
<text transform="translate(2740,1635.7) scale(0.88,1)" font-size="26" >"8"</text>
<text transform="translate(2785.4,1639.5) scale(0.826,1)" font-size="33" >к блоку</text>
<text transform="translate(2785.4,1677.8) scale(0.826,1)" font-size="33" >противоугонной</text>
<text transform="translate(2785.4,1718) scale(0.826,1)" font-size="33" >системы</text>
<text transform="translate(2489,1474.8) scale(0.9,1)" font-size="25.5" >1</text>
<rect x="2425" y="1483.6" width="100.6" height="100.4" stroke-width="3.8" fill="none" stroke-dasharray="10.5 6"/>
<circle cx="2475" cy="1533.4" r="25.7" stroke-width="3.2" fill="none"/>
<line x1="2456.8" y1="1515.2" x2="2493.2" y2="1551.6" stroke-width="3.2"/>
<line x1="2456.8" y1="1551.6" x2="2493.2" y2="1515.2" stroke-width="3.2"/>
<text transform="translate(2546.7,1501.6) scale(0.826,1)" font-size="33" >Лампа</text>
<text transform="translate(2546.7,1541.8) scale(0.826,1)" font-size="33" >освещения</text>
<text transform="translate(2546.7,1580) scale(0.826,1)" font-size="33" >салона</text>
<text transform="translate(2487.3,1612.7) scale(0.9,1)" font-size="25.5" >2</text>
<text transform="translate(2425,1630) scale(0.86,1)" font-size="25" >OrB</text>
<line x1="2475" y1="1559.1" x2="2475" y2="1668.3" stroke-width="3.4"/>
<circle cx="2475" cy="1668.3" r="7.5" fill="#000" stroke="none"/>
<polyline points="2475,1668.3 2375.7,1667.5 2375.7,1748" stroke-width="3.4" fill="none"/>
<path d="M2363.7,1748 L2387.7,1748 L2375.7,1772 Z" fill="#000" stroke="none"/>
<text transform="translate(2486.5,1702) scale(0.86,1)" font-size="25" >OrB</text>
<text transform="translate(2387.7,1718) scale(0.86,1)" font-size="25" >OrB</text>
<text transform="translate(2341,1802) scale(0.88,1)" font-size="26" >"5"</text>
<text transform="translate(2302.5,1833) scale(0.826,1)" font-size="33" >к блоку</text>
<text transform="translate(2302.5,1874) scale(0.826,1)" font-size="33" >противо-</text>
<text transform="translate(2302.5,1913) scale(0.826,1)" font-size="33" >угонной</text>
<text transform="translate(2302.5,1951.6) scale(0.826,1)" font-size="33" >системы</text>
<line x1="2475" y1="1668.3" x2="2474" y2="1722" stroke-width="3.4"/>
<path d="M2453.5,1754 A21.5,21.5 0 0 0 2494.5,1754" stroke-width="3.1" fill="none" />
<text transform="translate(2474,1750) scale(0.9,1)" font-size="25.5" text-anchor="middle" >3</text>
<text transform="translate(2505.7,1768) scale(0.845,1)" font-size="29.5" >C402</text>
<line x1="2474" y1="1769" x2="2473.9" y2="1844.4" stroke-width="3.4"/>
<text transform="translate(2484,1814.2) scale(0.86,1)" font-size="25" >OrB</text>
<rect x="2440.5" y="1844.4" width="100.5" height="100.8" stroke-width="3.8" fill="none" stroke-dasharray="10.5 6"/>
<line x1="2473.9" y1="1844.4" x2="2473.9" y2="1861" stroke-width="3.4"/>
<line x1="2473.9" y1="1861" x2="2494" y2="1914.6" stroke-width="3.4"/>
<line x1="2517" y1="1880" x2="2517" y2="1893.5" stroke-width="4.4"/>
<line x1="2485" y1="1887.7" x2="2511" y2="1887.7" stroke-width="3.8" stroke-dasharray="7 5"/>
<line x1="2473.9" y1="1916.5" x2="2473.9" y2="1945" stroke-width="3.4"/>
<text transform="translate(2564.7,1880) scale(0.826,1)" font-size="33" >Концевой выключатель</text>
<text transform="translate(2564.7,1920.3) scale(0.826,1)" font-size="33" >крышки багажника</text>
<line x1="2473.9" y1="1945" x2="2473.9" y2="2041" stroke-width="3.4"/>
<text transform="translate(2487.3,2029.5) scale(0.86,1)" font-size="28" >B</text>
<line x1="1679.7" y1="2040.6" x2="2966" y2="2040" stroke-width="3.4"/>
<text transform="translate(1649.8,2046.6) scale(0.97,1)" font-size="27" >31</text>
<circle cx="1773.7" cy="2040.6" r="7.5" fill="#000" stroke="none"/>
<circle cx="1884.9" cy="2040.6" r="7.5" fill="#000" stroke="none"/>
<circle cx="1996.4" cy="2040.6" r="7.5" fill="#000" stroke="none"/>
<circle cx="2155.4" cy="2040.6" r="7.5" fill="#000" stroke="none"/>
<circle cx="2280.7" cy="2040.6" r="7.5" fill="#000" stroke="none"/>
<circle cx="2473.9" cy="2040.6" r="7.5" fill="#000" stroke="none"/>
<text transform="translate(1787,2029) scale(0.88,1)" font-size="27" >G301</text>
<text transform="translate(1899.6,2029) scale(0.86,1)" font-size="28" >B</text>
<text transform="translate(2010.5,2029) scale(0.86,1)" font-size="28" >B</text>
<text transform="translate(2168.8,2029) scale(0.86,1)" font-size="28" >B</text>
<text transform="translate(2294.8,2029) scale(0.86,1)" font-size="28" >B</text>
<text transform="translate(2975.8,2046.7) scale(0.97,1)" font-size="27" >31</text>
<rect x="3010" y="2028.7" width="65.4" height="26.9" stroke-width="2.6" fill="none"/>
<text x="3018" y="2050.6" font-size="23" textLength="53" lengthAdjust="spacingAndGlyphs">GND</text>
<text transform="translate(2957.8,2154) scale(0.853,1)" font-size="37.7" >AV ED.018</text>
</svg></body></html>
